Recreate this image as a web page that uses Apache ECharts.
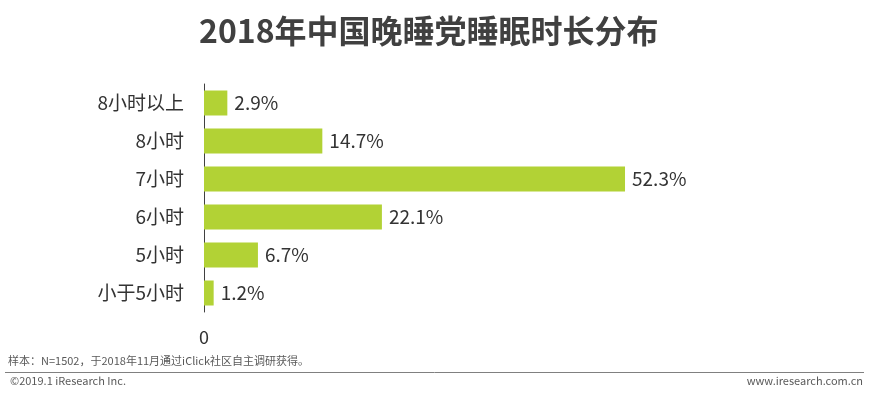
<!DOCTYPE html>
<html><head><meta charset="utf-8">
<script src="https://cdn.jsdelivr.net/npm/echarts@6/dist/echarts.min.js"></script>
<style>html,body{margin:0;padding:0;background:#fff}#c{width:869px;height:395px}</style>
</head><body><div id="c"></div>
<script>
const categories = ['8小时以上', '8小时', '7小时', '6小时', '5小时', '小于5小时'];
const values = [2.9, 14.7, 52.3, 22.1, 6.7, 1.2];
const titleText = '2018年中国晚睡党睡眠时长分布';
const noteText = '样本：N=1502，于2018年11月通过iClick社区自主调研获得。';
const copyText = '©2019.1 iResearch Inc.';
const siteText = 'www.iresearch.com.cn';

const FONT = '"Noto Sans CJK SC", "Noto Sans", sans-serif';
const chart = echarts.init(document.getElementById('c'));
chart.setOption({
  animation: false,
  title: {
    text: titleText, left: 199, top: 15, padding: 0,
    textStyle: { fontFamily: FONT, fontSize: 32, fontWeight: 'bold', color: '#404040' }
  },
  grid: { left: 204, top: 84, width: 483, height: 228, containLabel: false },
  xAxis: {
    type: 'value', min: 0, max: 60, interval: 60,
    axisLine: { show: false }, axisTick: { show: false }, splitLine: { show: false },
    axisLabel: { margin: 16, fontFamily: FONT, fontSize: 18, color: '#333',
      formatter: v => v === 0 ? '0' : '' }
  },
  yAxis: {
    type: 'category', data: categories, inverse: true,
    axisLine: { show: true, lineStyle: { color: '#404040', width: 1 } },
    axisTick: { show: false },
    axisLabel: { margin: 20, fontFamily: FONT, fontSize: 19, color: '#333' }
  },
  series: [{
    type: 'bar', data: values, barWidth: 25,
    itemStyle: { color: '#b2d235' },
    label: { show: true, position: 'right', distance: 7, fontFamily: FONT, fontSize: 19, color: '#333',
      formatter: p => p.value.toFixed(1) + '%' }
  }],
  graphic: [
    { type: 'text', left: 8, top: 355, style: { text: noteText, font: '11px ' + FONT, fill: '#595959' } },
    { type: 'line', shape: { x1: 5, y1: 372.5, x2: 864, y2: 372.5 }, style: { stroke: '#808080', lineWidth: 1 } },
    { type: 'text', left: 10, top: 375, style: { text: copyText, font: '11px ' + FONT, fill: '#595959' } },
    { type: 'text', right: 6, top: 375, style: { text: siteText, font: '11px ' + FONT, fill: '#595959' } }
  ]
});
</script></body></html>
